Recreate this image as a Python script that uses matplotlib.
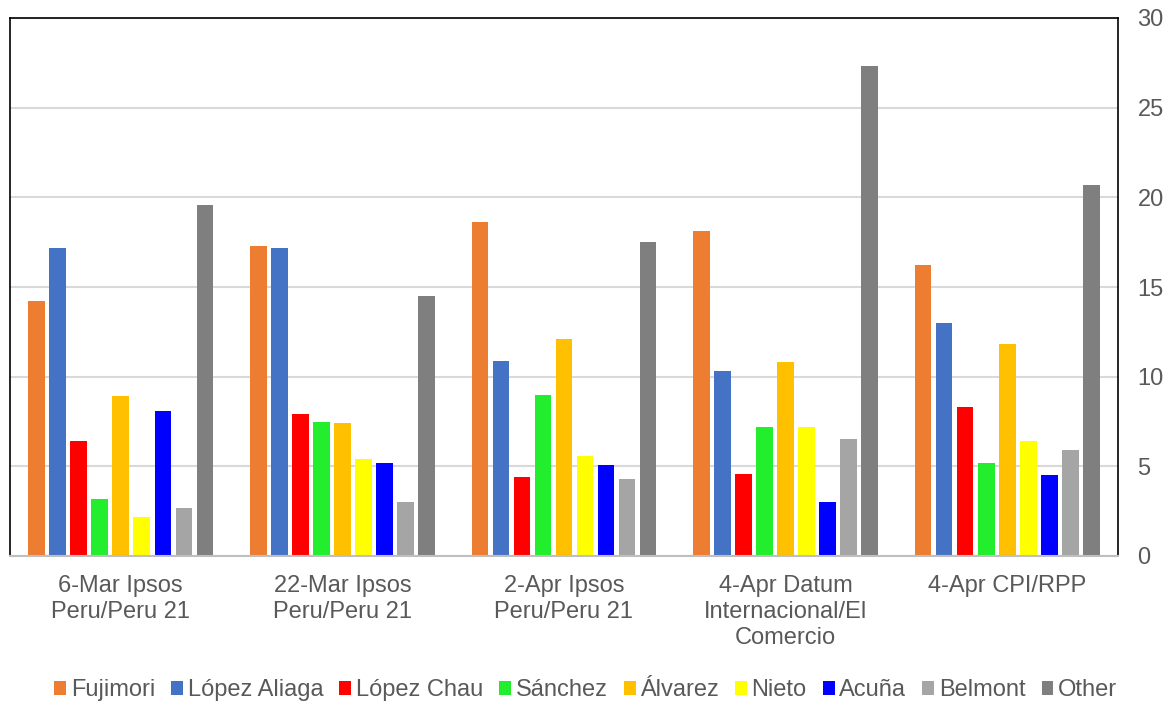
import numpy as np
import matplotlib
matplotlib.use("Agg")
import matplotlib.pyplot as plt

plt.rcParams['font.family'] = ['Liberation Sans', 'DejaVu Sans']

polls = ["6-Mar Ipsos\nPeru/Peru 21", "22-Mar Ipsos\nPeru/Peru 21",
         "2-Apr Ipsos\nPeru/Peru 21", "4-Apr Datum\nInternacional/El\nComercio",
         "4-Apr CPI/RPP"]
candidates = ["Fujimori", "López Aliaga", "López Chau", "Sánchez", "Álvarez",
              "Nieto", "Acuña", "Belmont", "Other"]
colors = ["#ED7D31", "#4472C4", "#FF0000", "#22EE2E", "#FFC000",
          "#FFFF00", "#0000FF", "#A5A5A5", "#7F7F7F"]

fujimori = [14.2, 17.3, 18.6, 18.1, 16.2]
lopez_aliaga = [17.2, 17.2, 10.9, 10.3, 13.0]
lopez_chau = [6.4, 7.9, 4.4, 4.6, 8.3]
sanchez = [3.2, 7.5, 9.0, 7.2, 5.2]
alvarez = [8.9, 7.4, 12.1, 10.8, 11.8]
nieto = [2.2, 5.4, 5.6, 7.2, 6.4]
acuna = [8.1, 5.2, 5.1, 3.0, 4.5]
belmont = [2.7, 3.0, 4.3, 6.5, 5.9]
other = [19.6, 14.5, 17.5, 27.3, 20.7]

series = [fujimori, lopez_aliaga, lopez_chau, sanchez, alvarez,
          nieto, acuna, belmont, other]

fig = plt.figure(figsize=(11.74, 7.06), dpi=100)
# plot area: x 10..1118, y 18..556 px
ax = fig.add_axes([10 / 1174, 1 - 556 / 706, 1108 / 1174, 538 / 706])

x = np.arange(len(polls))
slot = 0.0948
for i, (name, vals) in enumerate(zip(candidates, series)):
    offs = (i - 4) * slot
    ax.bar(x + offs, vals, width=0.075, color=colors[i], label=name, zorder=3)

ax.set_xlim(-0.5, 4.5)
ax.set_ylim(0, 30)
ax.set_yticks(range(0, 31, 5))
ax.yaxis.tick_right()
ax.tick_params(axis="y", length=0, labelsize=17, labelcolor="#595959", pad=14)
ax.tick_params(axis="x", length=0, labelsize=17, labelcolor="#595959", pad=14)
ax.set_xticks(x)
ax.set_xticklabels(polls, linespacing=1.22, va="top")
ax.grid(axis="y", color="#D9D9D9", linewidth=1.5, zorder=0)

for side in ["left", "right", "top"]:
    ax.spines[side].set_color("black")
    ax.spines[side].set_linewidth(1.2)
ax.spines["bottom"].set_color("#BFBFBF")
ax.spines["bottom"].set_linewidth(1.5)
ax.spines["bottom"].set_zorder(4)

leg = fig.legend(loc="center", bbox_to_anchor=(0.499, 0.022), ncol=9,
                 frameon=False, fontsize=17, handlelength=0.5, handleheight=0.5,
                 handletextpad=0.2, columnspacing=0.68, borderaxespad=0)
for t in leg.get_texts():
    t.set_color("#595959")

fig.savefig("out.png", dpi=100)
